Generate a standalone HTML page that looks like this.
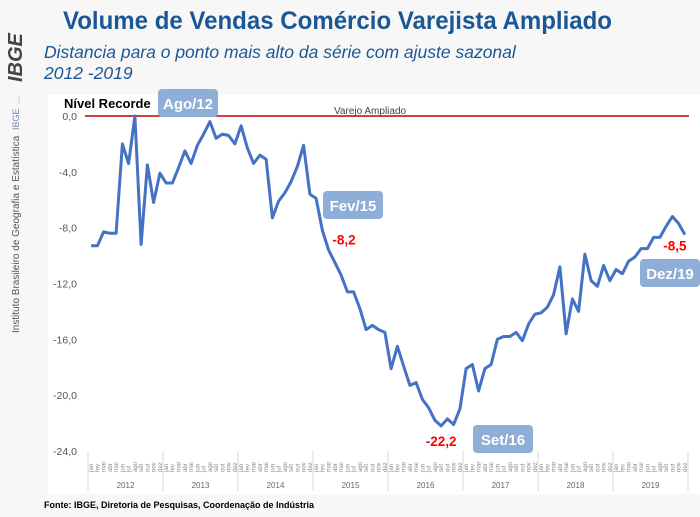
<!DOCTYPE html>
<html><head><meta charset="utf-8">
<style>
html,body{margin:0;padding:0;background:#f7f7f7;}
svg{display:block;font-family:"Liberation Sans",sans-serif;}
</style></head>
<body>
<svg id="chart" width="700" height="517" viewBox="0 0 700 517" xmlns="http://www.w3.org/2000/svg">
<rect x="0" y="0" width="700" height="517" fill="#f7f7f7"/>
<text transform="translate(22,82) rotate(-90)" font-size="20" font-weight="bold" font-style="italic" fill="#444">IBGE</text>
<line x1="19" y1="96" x2="19" y2="103" stroke="#ccc"/>
<text transform="translate(19,130) rotate(-90)" font-size="9" fill="#7a86b8">IBGE</text>
<text transform="translate(19,333) rotate(-90)" font-size="10" fill="#555">Instituto Brasileiro de Geografia e Estatística</text>
<text x="63" y="29" font-size="25" font-weight="bold" fill="#1b5795" textLength="549" lengthAdjust="spacingAndGlyphs">Volume de Vendas Comércio Varejista Ampliado</text>
<text x="44" y="58" font-size="17.5" font-style="italic" fill="#1b5795">Distancia para o ponto mais alto da série com ajuste sazonal</text>
<text x="44" y="79" font-size="17.5" font-style="italic" fill="#1b5795">2012 -2019</text>
<rect x="48" y="95" width="652" height="399" fill="#ffffff"/>
<g id="yaxis"></g>
<g id="xaxis"></g>
<line x1="85" y1="116" x2="689" y2="116" stroke="#c00000" stroke-width="1.5"/>
<text x="64" y="108" font-size="13" font-weight="bold" fill="#000">Nível Recorde</text>
<text x="334" y="114" font-size="10" fill="#444">Varejo Ampliado</text>
<path id="line" fill="none" stroke="#4472c4" stroke-width="3" stroke-linejoin="round"/>
<g id="annots"></g>
<text x="44" y="508" font-size="9" font-weight="bold" fill="#000">Fonte: IBGE, Diretoria de Pesquisas, Coordenação de Indústria</text>
</svg>
<script>
const years = ["2012","2013","2014","2015","2016","2017","2018","2019"];
const months = ["jan","fev","mar","abr","mai","jun","jul","ago","set","out","nov","dez"];
const yTicks = [0,-4,-8,-12,-16,-20,-24];
const yTickLabels = ["0,0","-4,0","-8,0","-12,0","-16,0","-20,0","-24,0"];
const values = [
-9.3,-9.3,-8.3,-8.4,-8.4,-2.0,-3.4,0.0,-9.2,-3.5,-6.2,-4.1,
-4.8,-4.8,-3.7,-2.5,-3.4,-2.1,-1.3,-0.4,-1.6,-1.3,-1.4,-2.0,
-0.7,-2.3,-3.4,-2.8,-3.1,-7.3,-6.1,-5.5,-4.7,-3.6,-2.1,-5.6,
-5.9,-8.2,-9.6,-10.5,-11.4,-12.6,-12.6,-13.8,-15.3,-15.0,-15.3,-15.5,
-18.1,-16.5,-17.9,-19.3,-19.1,-20.3,-20.9,-21.8,-22.2,-21.7,-22.1,-21.0,
-18.1,-17.8,-19.7,-18.1,-17.8,-16.0,-15.8,-15.8,-15.5,-16.1,-14.9,-14.2,
-14.1,-13.7,-12.8,-10.8,-15.6,-13.1,-14.0,-9.9,-11.8,-12.2,-10.7,-11.8,
-11.0,-11.3,-10.4,-10.1,-9.5,-9.5,-8.7,-8.7,-7.9,-7.2,-7.7,-8.5];
const callouts = [
 {i:7, label:"Ago/12", value:null, bx:158, by:89},
 {i:37, label:"Fev/15", value:"-8,2", bx:323, by:191},
 {i:56, label:"Set/16", value:"-22,2", bx:473, by:425},
 {i:95, label:"Dez/19", value:"-8,5", bx:640, by:259}
];
const X0=88, MONTHW=75/12, Y0=116, YPX=335/24;
const xs = i => X0 + (i+0.5)*MONTHW;
const ys = v => Y0 - v*YPX;
const NS="http://www.w3.org/2000/svg";
function mk(tag, parent){const e=document.createElementNS(NS,tag);parent.appendChild(e);return e;}
const ya=document.getElementById('yaxis');
yTicks.forEach((t,k)=>{
 const tx=mk('text',ya);
 
 
 tx.setAttribute('x',77);tx.setAttribute('y',ys(t)+4);tx.setAttribute('text-anchor','end');
 tx.setAttribute('font-size','10.5');tx.setAttribute('fill','#555');tx.textContent=yTickLabels[k];
});
const xa=document.getElementById('xaxis');
years.forEach((y,yi)=>{
 const x=X0+yi*75;
 const l=mk('line',xa);
 
 
 l.setAttribute('x1',x);l.setAttribute('x2',x);l.setAttribute('y1',451);l.setAttribute('y2',491);
 l.setAttribute('stroke','#d9d9d9');
 const t=mk('text',xa);
 
 
 t.setAttribute('x',x+37.5);t.setAttribute('y',488);t.setAttribute('text-anchor','middle');
 t.setAttribute('font-size','8');t.setAttribute('fill','#666');t.textContent=y;
 months.forEach((m,mi)=>{
  const mt=mk('text',xa);
  
  
  const cx=xs(yi*12+mi)+2;
  mt.setAttribute('transform','translate('+cx+',472) rotate(-90)');
  mt.setAttribute('font-size','6');mt.setAttribute('fill','#888');mt.textContent=m;
 });
});
const lastL=mk('line',xa);


lastL.setAttribute('x1',X0+600);lastL.setAttribute('x2',X0+600);lastL.setAttribute('y1',451);lastL.setAttribute('y2',491);lastL.setAttribute('stroke','#d9d9d9');
document.getElementById('line').setAttribute('d',values.map((v,i)=>(i?'L':'M')+xs(i).toFixed(1)+' '+ys(v).toFixed(1)).join(' '));
const an=document.getElementById('annots');
callouts.forEach(c=>{
 const r=mk('rect',an);
 
 
 r.setAttribute('x',c.bx);r.setAttribute('y',c.by);r.setAttribute('width',60);r.setAttribute('height',28);
 r.setAttribute('rx',4);r.setAttribute('fill','#8eaed8');
 const t=mk('text',an);
 
 
 t.setAttribute('x',c.bx+30);t.setAttribute('y',c.by+20);t.setAttribute('text-anchor','middle');
 t.setAttribute('font-size','15');t.setAttribute('font-weight','bold');t.setAttribute('fill','#fff');t.textContent=c.label;
 if(c.value){
  const v=mk('text',an);
  
  
  let vx=xs(c.i)+10, vy=ys(values[c.i])+14;
  if(c.i===56){vx=xs(c.i);vy=ys(values[c.i])+20;}
  if(c.i===95){vx=xs(c.i)-10;vy=ys(values[c.i])+16;}
  v.setAttribute('x',vx);v.setAttribute('y',vy);v.setAttribute('text-anchor',c.i===37?'start':'middle');
  v.setAttribute('font-size','13.5');v.setAttribute('font-weight','bold');v.setAttribute('fill','#ff0000');v.textContent=c.value;
 }
});
</script>
</body></html>
